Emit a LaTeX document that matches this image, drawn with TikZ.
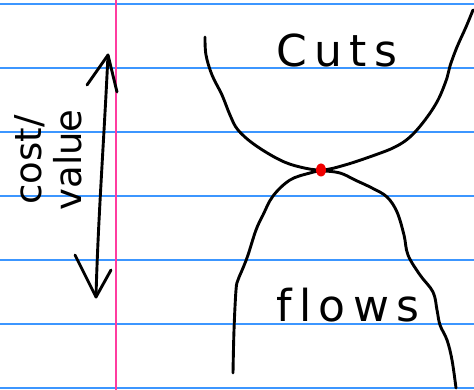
\documentclass[tikz,border=0pt]{standalone}
\usepackage{fontspec}
\setmainfont{DejaVu Sans}
\usetikzlibrary{arrows.meta,shapes.geometric}
\definecolor{ruleblue}{RGB}{60,150,255}
\definecolor{rulepink}{RGB}{255,60,160}
\definecolor{dotred}{RGB}{240,0,0}
\tikzset{
  ruled/.style={ruleblue, line width=1.6pt},
  margin/.style={rulepink, line width=1.6pt},
  ink/.style={black, line width=2.9pt, line cap=round, line join=round},
  hand/.style={font=\fontsize{44}{48}\selectfont, inner sep=0pt},
  sidehand/.style={font=\fontsize{37}{40}\selectfont, inner sep=0pt, align=center, rotate=90}
}
\begin{document}
\begin{tikzpicture}[x=1pt,y=-1pt]
\useasboundingbox (0,0) rectangle (474,390);
\fill[white] (0,0) rectangle (474,390);
% ruled lines
\foreach \yy in {4,68,132,196,260,324,388}
  \draw[ruled] (0,\yy) -- (474,\yy);
\draw[margin] (116,0) -- (116,390);
% upper curve (cuts)
\draw[ink] plot[smooth, tension=0.6] coordinates {(205,37) (206,55) (212,75) (222,95) (230,115) (238,130) (255,145) (280,160) (300,167) (322,170) (345,165) (375,155) (395,147) (410,137) (425,120) (438,100) (447,78) (450,66) (457,47) (466,27) (473,10)};
% lower curve (flows)
\draw[ink] plot[smooth, tension=0.6] coordinates {(233,373) (234,330) (236,290) (238,280) (243,268) (248,255) (256,230) (263,215) (273,196) (290,180) (310,173) (322,171) (340,173) (355,180) (372,188) (387,197) (397,212) (404,235) (408,255) (420,275) (433,292) (437,310) (440,325) (447,340) (452,360) (456,388)};
% meeting point
\node[fill=dotred, ellipse, minimum width=10pt, minimum height=13pt, inner sep=0pt, draw=none] (dot) at (321,170) {};
% labels
\node[hand] (cuts) at (337,50) {C\,u\,t\,s};
\node[hand] (flows) at (348,305) {f\,l\,o\,w\,s};
\node[sidehand] (cv) at (48,160) {cost/\\value};
% double arrow
\coordinate (atop) at (108,55);
\coordinate (abot) at (96,297);
\draw[ink] (atop) .. controls (104,140) and (98,220) .. (abot);
\draw[ink] (87,85) -- (atop) -- (117,92);
\draw[ink] (75,255) -- (abot) -- (111,270);
\end{tikzpicture}
\end{document}
